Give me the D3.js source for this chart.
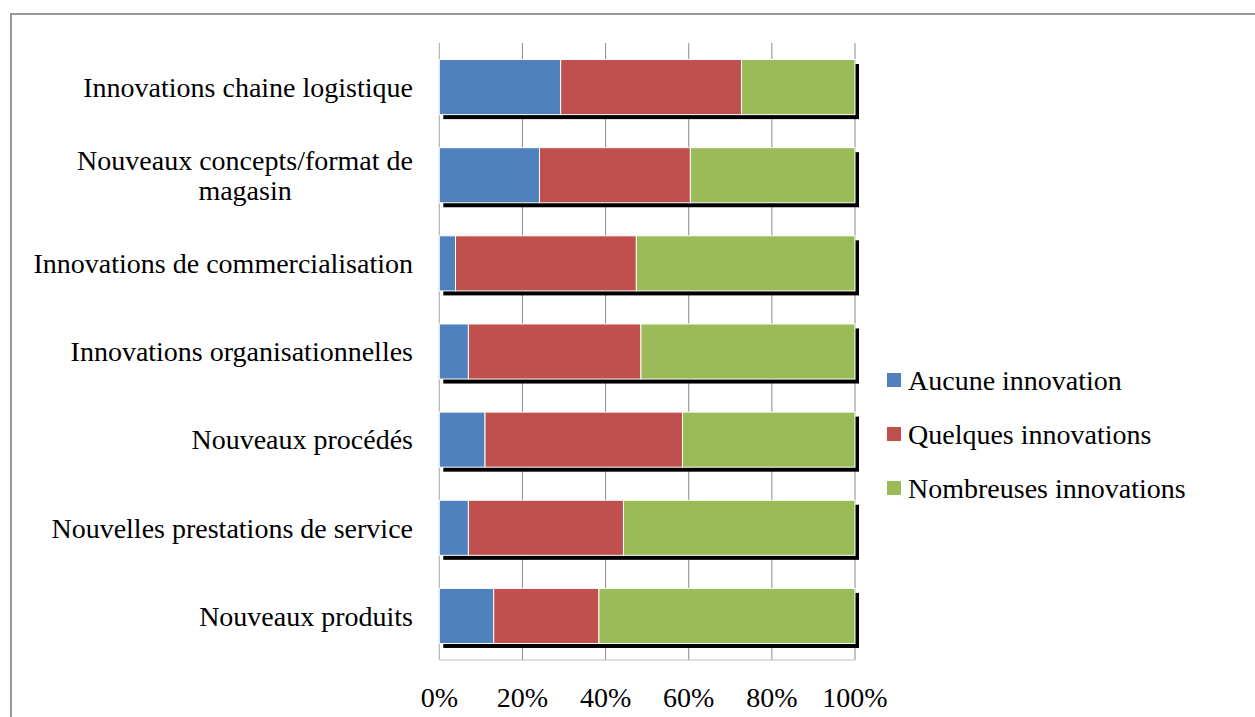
<!DOCTYPE html>
<html>
<head>
<meta charset="utf-8">
<script src="https://cdn.jsdelivr.net/npm/d3@7"></script>
<style>
  body { margin: 0; background: #fff; }
  text { font-family: "Liberation Serif", "DejaVu Serif", serif; fill: #000; }
</style>
</head>
<body>
<svg id="chart" width="1255" height="717"></svg>
<script>
// categories, top to bottom
var categories = [
    "Innovations chaine logistique",
    "Nouveaux concepts/format de|magasin",
    "Innovations de commercialisation",
    "Innovations organisationnelles",
    "Nouveaux procédés",
    "Nouvelles prestations de service",
    "Nouveaux produits"
];
var seriesNames = ["Aucune innovation", "Quelques innovations", "Nombreuses innovations"];
var aucune =      [29.2, 24.1, 3.9, 7.0, 11.0, 7.0, 13.1];
var quelques =    [43.5, 36.3, 43.5, 41.5, 47.5, 37.3, 25.3];
var nombreuses =  [27.3, 39.6, 52.6, 51.5, 41.5, 55.7, 61.6];
var tickLabels = ["0%", "20%", "40%", "60%", "80%", "100%"];
var colors = ["#4f81bd", "#c0504d", "#9bbb59"];

var svg = d3.select("#chart");
var fontSize = 28;

// outer frame
svg.append("rect")
    .attr("x", 11).attr("y", 14)
    .attr("width", 1300).attr("height", 800)
    .attr("fill", "none")
    .attr("stroke", "#999").attr("stroke-width", 2);

var plotLeft = 439.3, plotRight = 855, plotTop = 43, plotBottom = 660;

var x = d3.scaleLinear().domain([0, 100]).range([plotLeft, plotRight]);
var y = d3.scaleBand().domain(categories).range([plotTop, plotBottom]).paddingInner(0.375).paddingOuter(0.1875);

var rows = categories.map(function(c, i) {
    return { cat: c, aucune: aucune[i], quelques: quelques[i], nombreuses: nombreuses[i] };
});
var stack = d3.stack().keys(["aucune", "quelques", "nombreuses"]);
var layers = stack(rows);

// gridlines
svg.append("g")
    .selectAll("line")
    .data(d3.range(0, 101, 20))
    .enter().append("line")
    .attr("x1", function(d) { return x(d); })
    .attr("x2", function(d) { return x(d); })
    .attr("y1", plotTop).attr("y2", plotBottom)
    .attr("stroke", function(d) { return d == 0 ? "#a6a6a6" : "#8a8a8a"; })
    .attr("stroke-width", 1);

svg.append("line")
    .attr("x1", plotLeft).attr("x2", plotRight)
    .attr("y1", plotBottom).attr("y2", plotBottom)
    .attr("stroke", "#bfbfbf").attr("stroke-width", 1);

// shadows
svg.append("g")
    .selectAll("rect")
    .data(rows)
    .enter().append("rect")
    .attr("x", x(0) + 4)
    .attr("y", function(d) { return y(d.cat) + 4.5; })
    .attr("width", x(100) - x(0))
    .attr("height", y.bandwidth())
    .attr("fill", "#000");

// bars
var layer = svg.append("g")
    .selectAll("g")
    .data(layers)
    .enter().append("g")
    .attr("fill", function(d, i) { return colors[i]; });

layer.selectAll("rect")
    .data(function(d) { return d; })
    .enter().append("rect")
    .attr("x", function(d) { return x(d[0]); })
    .attr("y", function(d) { return y(d.data.cat); })
    .attr("width", function(d) { return x(d[1]) - x(d[0]); })
    .attr("height", y.bandwidth())
    .attr("stroke", "#fff")
    .attr("stroke-width", 1);

// category labels (multi-line ones are centred on their block)
var labelX = 413;
var labels = svg.append("g")
    .selectAll("g")
    .data(categories)
    .enter().append("g");

labels.each(function(c) {
    var g = d3.select(this);
    var lines = c.split("|");
    var cy = y(c) + y.bandwidth() / 2;
    var lh = 30;
    var texts = lines.map(function(l, k) {
        return g.append("text")
            .attr("y", cy + (k - (lines.length - 1) / 2) * lh)
            .attr("dy", "0.35em")
            .attr("font-size", fontSize)
            .text(l);
    });
    var widths = texts.map(function(t) { return t.node().getComputedTextLength(); });
    var maxW = d3.max(widths);
    texts.forEach(function(t) {
        t.attr("x", labelX - maxW / 2).attr("text-anchor", "middle");
    });
});

// x tick labels
svg.append("g")
    .selectAll("text")
    .data(tickLabels)
    .enter().append("text")
    .attr("x", function(d, i) { return x(i * 20); })
    .attr("y", 697)
    .attr("dy", "0.35em")
    .attr("text-anchor", "middle")
    .attr("font-size", fontSize)
    .text(function(d) { return d; });

// legend
var legend = svg.append("g")
    .selectAll("g")
    .data(seriesNames)
    .enter().append("g")
    .attr("transform", function(d, i) { return "translate(887," + (380 + i * 54) + ")"; });

legend.append("rect")
    .attr("x", 0).attr("y", -7)
    .attr("width", 14).attr("height", 14)
    .attr("fill", function(d, i) { return colors[i]; });

legend.append("text")
    .attr("x", 21)
    .attr("dy", "0.35em")
    .attr("font-size", fontSize)
    .text(function(d) { return d; });
</script>
</body>
</html>
